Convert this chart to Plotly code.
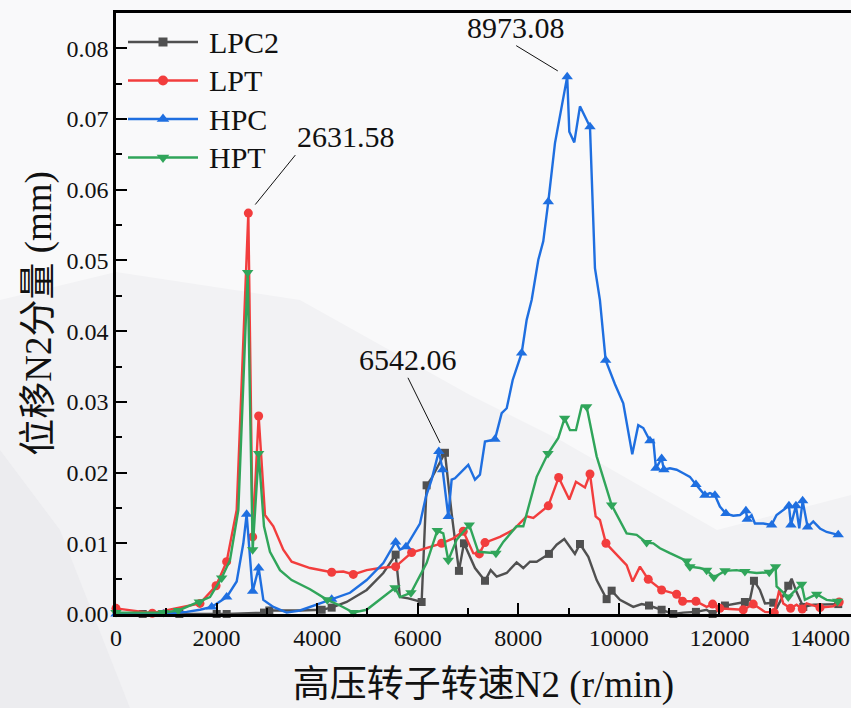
import plotly.graph_objects as go

# ---- data: rotor speed N2 (r/min) vs displacement N2 component (mm) ----
speed_lpc2 = [0, 531, 1260, 2002, 2201, 2943, 3049, 3659, 4090, 4289, 4587, 4985, 5316, 5561,
              5647, 5813, 6078, 6177, 6277, 6542.06, 6575, 6675, 6820, 6920, 7139, 7338, 7451,
              7570, 7769, 7967, 8100, 8233, 8366, 8610, 8763, 8915, 9127, 9227, 9393, 9559,
              9757, 9857, 10022, 10287, 10453, 10600, 10851, 11083, 11281, 11533, 11746, 11865,
              12110, 12507, 12607, 12687, 12806, 12906, 13071, 13137, 13369, 13436, 13535,
              13668, 13866, 14363]
disp_lpc2 = [0, 0, 0, 0, 0, 0.0002, 0.0005, 0.0005, 0.0006, 0.0009, 0.0017, 0.0034, 0.0058,
             0.0084, 0.0024, 0.0022, 0.0017, 0.0182, 0.0192, 0.0228, 0.0204, 0.0142, 0.0061,
             0.0100, 0.0065, 0.0047, 0.0062, 0.0053, 0.0058, 0.0073, 0.0065, 0.0074, 0.0074,
             0.0085, 0.0098, 0.0106, 0.0085, 0.0099, 0.0081, 0.0048, 0.0021, 0.0033, 0.0020,
             0.0010, 0.0014, 0.0012, 0.0006, 0.0000, 0.0002, 0.0003, 0.0006, 0.0000, 0.0012,
             0.0017, 0.0020, 0.0047, 0.0034, 0.0015, 0.0016, 0.0008, 0.0040, 0.0050, 0.0031,
             0.0010, 0.0013, 0.0014]

speed_lpt = [0, 722, 1670, 1990, 2200, 2400, 2631.58, 2718, 2837, 2963, 3129, 3327, 3493, 3858,
             4289, 4520, 4719, 4985, 5250, 5561, 5879, 6177, 6476, 6708, 6906, 7105, 7225, 7338,
             7636, 7901, 8167, 8299, 8597, 8803, 9015, 9147, 9326, 9426, 9539, 9624, 9744,
             10088, 10155, 10274, 10420, 10585, 10851, 11149, 11268, 11533, 11746, 11865,
             12010, 12209, 12474, 12673, 12906, 13091, 13190, 13270, 13416, 13535, 13647,
             13734, 14000, 14264, 14383]
disp_lpt = [0.0008, 0.0001, 0.0015, 0.0040, 0.0074, 0.0147, 0.0567, 0.0109, 0.0280, 0.0140,
            0.0124, 0.0091, 0.0074, 0.0065, 0.0059, 0.0060, 0.0056, 0.0062, 0.0065, 0.0067,
            0.0087, 0.0093, 0.0100, 0.0107, 0.0117, 0.0086, 0.0085, 0.0101, 0.0109, 0.0119,
            0.0138, 0.0136, 0.0153, 0.0193, 0.0162, 0.0187, 0.0179, 0.0198, 0.0138, 0.0133,
            0.0100, 0.0074, 0.0069, 0.0046, 0.0067, 0.0049, 0.0034, 0.0028, 0.0018, 0.0018,
            0.0010, 0.0014, 0.0008, 0.0007, 0.0006, 0.0014, 0.0003, 0.0002, 0.0034, 0.0015,
            0.0008, 0.0013, 0.0007, 0.0015, 0.0009, 0.0011, 0.0017]

speed_hpc = [0, 941, 1406, 1670, 1903, 2201, 2400, 2532, 2598, 2718, 2837, 2930, 3129, 3394,
             3659, 3858, 4289, 4653, 4985, 5316, 5561, 5647, 5767, 6045, 6164, 6277, 6420,
             6496, 6608, 6675, 6741, 7006, 7139, 7238, 7338, 7536, 7670, 7770, 7889, 8067,
             8167, 8266, 8399, 8497, 8597, 8730, 8973.08, 9015, 9114, 9227, 9426, 9525, 9624,
             9738, 9923, 10088, 10267, 10386, 10486, 10619, 10685, 10738, 10851, 10897, 11016,
             11149, 11281, 11414, 11533, 11712, 11812, 11911, 12010, 12130, 12275, 12408,
             12527, 12554, 12640, 12706, 12872, 13038, 13137, 13270, 13383, 13423, 13522,
             13588, 13655, 13754, 13866, 14000, 14132, 14363]
disp_hpc = [0, 0, 0.0003, 0.0006, 0.0010, 0.0024, 0.0046, 0.0100, 0.0141, 0.0032, 0.0065,
            0.0020, 0.0010, 0.0002, 0.0005, 0.0010, 0.0021, 0.0030, 0.0048, 0.0072, 0.0102,
            0.0091, 0.0095, 0.0128, 0.0166, 0.0190, 0.0230, 0.0204, 0.0138, 0.0190, 0.0192,
            0.0211, 0.0190, 0.0197, 0.0244, 0.0247, 0.0284, 0.0291, 0.0331, 0.0369, 0.0416,
            0.0444, 0.0501, 0.0527, 0.0583, 0.0666, 0.0760, 0.0682, 0.0667, 0.0718, 0.0689,
            0.0489, 0.0444, 0.0359, 0.0325, 0.0298, 0.0226, 0.0267, 0.0263, 0.0245, 0.0246,
            0.0206, 0.0220, 0.0204, 0.0206, 0.0204, 0.0199, 0.0194, 0.0183, 0.0168, 0.0171,
            0.0168, 0.0152, 0.0142, 0.0139, 0.0140, 0.0146, 0.0134, 0.0140, 0.0128, 0.0128,
            0.0126, 0.0140, 0.0147, 0.0153, 0.0126, 0.0153, 0.0121, 0.0160, 0.0123, 0.0131,
            0.0121, 0.0116, 0.0112]

speed_hpt = [0, 941, 1239, 1657, 1869, 2101, 2267, 2433, 2619, 2718, 2837, 2943, 3062, 3261,
             3493, 3858, 4202, 4454, 4719, 4985, 5250, 5548, 5647, 5866, 6177, 6389, 6508,
             6608, 6774, 7025, 7205, 7556, 7702, 7967, 8100, 8366, 8591, 8796, 8922, 9028,
             9147, 9260, 9360, 9559, 9857, 10155, 10354, 10553, 10685, 10818, 11016, 11348,
             11414, 11613, 11746, 11891, 12110, 12342, 12507, 12740, 12991, 13117, 13137,
             13369, 13634, 13700, 13933, 14132, 14351]
disp_hpt = [0.0002, 0.0002, 0.0005, 0.0017, 0.0024, 0.0051, 0.0076, 0.0147, 0.0483, 0.0091,
            0.0227, 0.0124, 0.0088, 0.0062, 0.0048, 0.0035, 0.0020, 0.0012, 0.0002, 0.0006,
            0.0020, 0.0037, 0.0024, 0.0030, 0.0072, 0.0118, 0.0114, 0.0076, 0.0105, 0.0126,
            0.0088, 0.0086, 0.0102, 0.0124, 0.0124, 0.0194, 0.0227, 0.0249, 0.0277, 0.0260,
            0.0260, 0.0294, 0.0293, 0.0223, 0.0154, 0.0114, 0.0112, 0.0101, 0.0100, 0.0093,
            0.0086, 0.0075, 0.0067, 0.0065, 0.0062, 0.0052, 0.0061, 0.0062, 0.0060, 0.0058,
            0.0059, 0.0067, 0.0039, 0.0024, 0.0042, 0.0020, 0.0028, 0.0020, 0.0018]

# speeds at which a symbol is drawn on each curve
symbols_lpc2 = [531, 1260, 2002, 2201, 2943, 3049, 4090, 4289, 5561, 6078, 6177, 6542.06, 6820,
                6920, 7338, 8610, 9227, 9757, 9857, 10600, 10851, 11083, 11533, 11865, 12110,
                12507, 12687, 13071, 13369, 13668, 14363]
symbols_lpt = [0, 722, 1670, 1990, 2200, 2631.58, 2718, 2837, 4289, 4719, 5561, 5879, 6476,
               6906, 7225, 7338, 8597, 8803, 9426, 9744, 10585, 10851, 11149, 11268, 11533,
               11865, 12010, 12474, 12673, 13091, 13416, 13647, 14000, 14383]
symbols_hpc = [0, 941, 1903, 2201, 2598, 2718, 2837, 4289, 5561, 5767, 6420, 6496, 6608, 7536,
               8067, 8597, 8973.08, 9426, 9738, 10619, 10738, 10851, 10897, 11533, 11712,
               11911, 12130, 12527, 12554, 13038, 13383, 13423, 13522, 13655, 13754, 14363]
symbols_hpt = [0, 941, 1239, 1657, 2101, 2619, 2718, 2837, 4202, 4719, 5548, 5866, 6389, 6608,
               7025, 7556, 8591, 8922, 9360, 9857, 10553, 11348, 11414, 11746, 11891, 12110,
               12507, 12991, 13117, 13369, 13634, 13933, 14351]

# peak labels: (series speeds, series values, labelled speed)
peak_labels = [
    (speed_lpt, disp_lpt, 2631.58),
    (speed_hpc, disp_hpc, 8973.08),
    (speed_lpc2, disp_lpc2, 6542.06),
]

FONT = "Liberation Serif, Times New Roman, Noto Sans CJK SC, serif"

series = [
    ("LPC2", speed_lpc2, disp_lpc2, symbols_lpc2, "#505050", "square", 8),
    ("LPT", speed_lpt, disp_lpt, symbols_lpt, "#f23d3d", "circle", 9),
    ("HPC", speed_hpc, disp_hpc, symbols_hpc, "#1f6fe0", "triangle-up", 10),
    ("HPT", speed_hpt, disp_hpt, symbols_hpt, "#30a55a", "triangle-down", 10),
]

# canvas and plot-area geometry (pixels)
W, H = 851, 708
L, T, PW, PH = 116, 13, 735, 601

fig = go.Figure()
for name, xs, ys, marks, color, symbol, size in series:
    # full curve
    fig.add_trace(go.Scatter(x=xs, y=ys, mode="lines", showlegend=False,
                             line=dict(color=color, width=2.4), hoverinfo="skip",
                             cliponaxis=False))
    # symbols on selected points
    keep = set(marks)
    mx = [x for x in xs if x in keep]
    my = [y for x, y in zip(xs, ys) if x in keep]
    fig.add_trace(go.Scatter(x=mx, y=my, mode="markers", showlegend=False,
                             marker=dict(color=color, symbol=symbol, size=size,
                                         line=dict(width=0)),
                             cliponaxis=False))

# legend block drawn on a hidden pixel-unit overlay (x: px from left edge of plot, y: px from top)
LEG_X0, LEG_X1, LEG_TEXT_X = 12, 82, 91
LEG_ROW0, LEG_ROW_STEP = 29, 38.5
for i, (name, xs, ys, marks, color, symbol, size) in enumerate(series):
    ry = LEG_ROW0 + i * LEG_ROW_STEP
    fig.add_trace(go.Scatter(x=[LEG_X0, LEG_X1], y=[ry, ry], mode="lines", xaxis="x2",
                             yaxis="y2", showlegend=False, hoverinfo="skip",
                             line=dict(color=color, width=2.4)))
    fig.add_trace(go.Scatter(x=[(LEG_X0 + LEG_X1) / 2], y=[ry], mode="markers", xaxis="x2",
                             yaxis="y2", showlegend=False, hoverinfo="skip",
                             marker=dict(color=color, symbol=symbol, size=size + 1,
                                         line=dict(width=0))))
    fig.add_annotation(x=LEG_TEXT_X, y=ry, xref="x2", yref="y2", text=name, showarrow=False,
                       xanchor="left", yanchor="middle",
                       font=dict(family=FONT, size=30, color="#111"))

# peak annotations with leader lines
label_geom = {
    2631.58: dict(ax=47, ay=-58, xanchor="left", yanchor="bottom"),
    8973.08: dict(ax=-51, ay=-31, xanchor="center", yanchor="bottom"),
    6542.06: dict(ax=-37, ay=-75, xanchor="center", yanchor="bottom"),
}
for xs, ys, sx in peak_labels:
    sy = ys[xs.index(sx)]
    g = label_geom[sx]
    fig.add_annotation(x=sx, y=sy, text=f"{sx:.2f}", showarrow=True, arrowhead=0,
                       arrowwidth=1, arrowcolor="#111", standoff=11,
                       ax=g["ax"], ay=g["ay"], xanchor=g["xanchor"], yanchor=g["yanchor"],
                       font=dict(family=FONT, size=30, color="#111"))


# soft paper-like backdrop
def to_paper(px, py):
    return (px - L) / PW, (T + PH - py) / PH


def poly(points):
    pts = [to_paper(*p) for p in points]
    return "M " + " L ".join(f"{x:.4f},{y:.4f}" for x, y in pts) + " Z"


fig.add_shape(type="path", xref="paper", yref="paper", layer="below", line_width=0,
              fillcolor="#f9f9fa",
              path=poly([(0, 0), (851, 0), (851, 495), (717, 530), (560, 440), (470, 395),
                         (300, 300), (116, 272), (0, 300)]))
fig.add_shape(type="path", xref="paper", yref="paper", layer="below", line_width=0,
              fillcolor="#ececef",
              path=poly([(0, 450), (60, 530), (130, 708), (0, 708)]))

fig.update_layout(
    width=W, height=H,
    margin=dict(l=L, r=0, t=T, b=H - T - PH),
    paper_bgcolor="#f2f2f4",
    plot_bgcolor="rgba(0,0,0,0)",
    font=dict(family=FONT, color="#111"),
    showlegend=False,
    xaxis=dict(range=[0, 14617], dtick=2000, tick0=0, tickformat="d", showgrid=False,
               zeroline=False, showline=True, linecolor="#000", linewidth=2.5, mirror=True,
               ticks="inside", ticklen=11, tickwidth=2, tickcolor="#000",
               minor=dict(dtick=1000, ticks="inside", ticklen=6, tickwidth=2,
                          tickcolor="#000", showgrid=False),
               tickfont=dict(family=FONT, size=24),
               title=dict(text="高压转子转速N2 (r/min)", font=dict(family=FONT, size=37),
                          standoff=22)),
    yaxis=dict(range=[0, 0.085], dtick=0.01, tick0=0, tickformat=".2f", showgrid=False,
               zeroline=False, showline=True, linecolor="#000", linewidth=2.5,
               ticks="inside", ticklen=11, tickwidth=2, tickcolor="#000",
               minor=dict(dtick=0.005, ticks="inside", ticklen=6, tickwidth=2,
                          tickcolor="#000", showgrid=False),
               tickfont=dict(family=FONT, size=24),
               title=dict(text="位移N2分量 (mm)", font=dict(family=FONT, size=37),
                          standoff=4)),
    xaxis2=dict(overlaying="x", anchor="y2", range=[0, PW], visible=False, fixedrange=True),
    yaxis2=dict(overlaying="y", anchor="x2", range=[PH, 0], visible=False, fixedrange=True),
)

fig.write_html("out.html")
